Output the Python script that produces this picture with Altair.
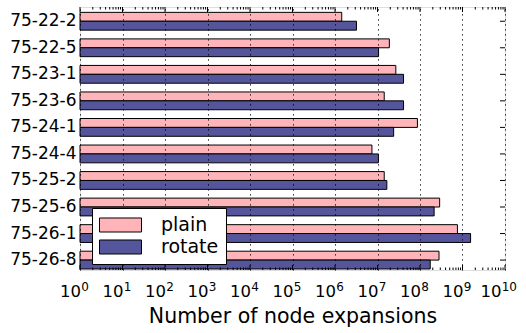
import altair as alt
import pandas as pd

# Node expansions per problem instance, plain vs. rotate
instances = ["75-22-2", "75-22-5", "75-23-1", "75-23-6", "75-24-1",
             "75-24-4", "75-25-2", "75-25-6", "75-26-1", "75-26-8"]
plain = [1.44e6, 1.9e7, 2.7e7, 1.44e7, 8.7e7, 7.4e6, 1.44e7, 2.9e8, 7.6e8, 2.8e8]
rotate = [3.2e6, 1.06e7, 4.1e7, 4.1e7, 2.4e7, 1.05e7, 1.66e7, 2.15e8, 1.55e9, 1.74e8]
series = ["plain", "rotate"]
colors = ["#ffb4b9", "#55559b"]

exponents = list(range(0, 11))
decades = [10 ** e for e in exponents]
minor = [k * 10 ** d for d in range(0, 10) for k in range(2, 10)]

W, H = 425, 263

rows = []
for i, name in enumerate(instances):
    rows.append({"instance": name, "series": "plain", "value": plain[i]})
    rows.append({"instance": name, "series": "rotate", "value": rotate[i]})
df = pd.DataFrame(rows)

xscale = alt.Scale(type="log", domain=[1, 1e10], nice=False)
yscale = alt.Scale(domain=instances, paddingInner=0.33, paddingOuter=0.12, align=0.84)

bars = alt.Chart(df).mark_bar(stroke="black", strokeWidth=1).encode(
    y=alt.Y("instance:N", sort=instances, scale=yscale,
            axis=alt.Axis(title=None, ticks=False, domain=False, labelFontSize=17,
                          labelPadding=4, labelColor="black")),
    yOffset=alt.YOffset("series:N", sort=series, scale=alt.Scale(domain=series)),
    x=alt.X("value:Q", scale=xscale,
            axis=alt.Axis(values=decades, title="Number of node expansions",
                          labels=False, ticks=False, domain=False,
                          titleFontSize=20.5, titleFontWeight="normal", titleColor="black",
                          titleBaseline="alphabetic", titleY=52,
                          grid=True, gridDash=[1.2, 3.8], gridColor="black", gridOpacity=1,
                          gridWidth=1, zindex=1)),
    x2=alt.datum(1),
    fill=alt.Fill("series:N", sort=series,
                  scale=alt.Scale(domain=series, range=colors),
                  legend=alt.Legend(title=None, orient="none", legendX=12, legendY=201,
                                    symbolType="M-1,-0.737H3.42V0.737H-1Z", symbolSize=361,
                                    symbolStrokeColor="black", symbolStrokeWidth=1,
                                    symbolOpacity=1, labelFontSize=19, labelColor="black",
                                    labelOffset=42, rowPadding=2, padding=7,
                                    fillColor="white", strokeColor="black",
                                    cornerRadius=0, zindex=2)),
)

# inward tick marks along the top and bottom edges
major_df = pd.DataFrame({"v": decades})
minor_df = pd.DataFrame({"v": minor})


def edge_ticks(data, length):
    bottom = alt.Chart(data).mark_rule(color="black", strokeWidth=1).encode(
        x=alt.X("v:Q", scale=xscale), y=alt.value(H), y2=alt.value(H - length))
    top = alt.Chart(data).mark_rule(color="black", strokeWidth=1).encode(
        x=alt.X("v:Q", scale=xscale), y=alt.value(0), y2=alt.value(length))
    return bottom + top


right_ticks = alt.Chart(pd.DataFrame({"instance": instances})).mark_rule(
    color="black", strokeWidth=1).encode(
    y=alt.Y("instance:N", sort=instances, scale=yscale),
    x=alt.value(W - 5), x2=alt.value(W))

# power-of-ten tick labels: "10" with a raised exponent
lab_df = pd.DataFrame({"v": decades, "e": [str(e) for e in exponents]})


def power_labels(data, base_dx, exp_dx):
    base = alt.Chart(data).mark_text(
        text="10", align="right", baseline="alphabetic", fontSize=16.5,
        color="black", dx=base_dx).encode(
        x=alt.X("v:Q", scale=xscale), y=alt.value(H + 27.3))
    exp = alt.Chart(data).mark_text(
        align="left", baseline="alphabetic", fontSize=12, color="black",
        dx=exp_dx).encode(
        x=alt.X("v:Q", scale=xscale), y=alt.value(H + 20.6), text="e:N")
    return base + exp


chart = alt.layer(
    bars, edge_ticks(major_df, 5), edge_ticks(minor_df, 2.5), right_ticks,
    power_labels(lab_df.iloc[:10], 1, 1.2), power_labels(lab_df.iloc[10:], -3.5, -3.3)
).properties(
    width=W, height=H,
    autosize=alt.AutoSizeParams(type="none"),
    padding={"left": 80, "top": 7, "right": 21, "bottom": 63},
).configure_view(
    stroke="black", strokeWidth=1.2
).configure(
    font="DejaVu Sans"
)

chart.save("out.html", embed_options={"renderer": "svg", "actions": False})
